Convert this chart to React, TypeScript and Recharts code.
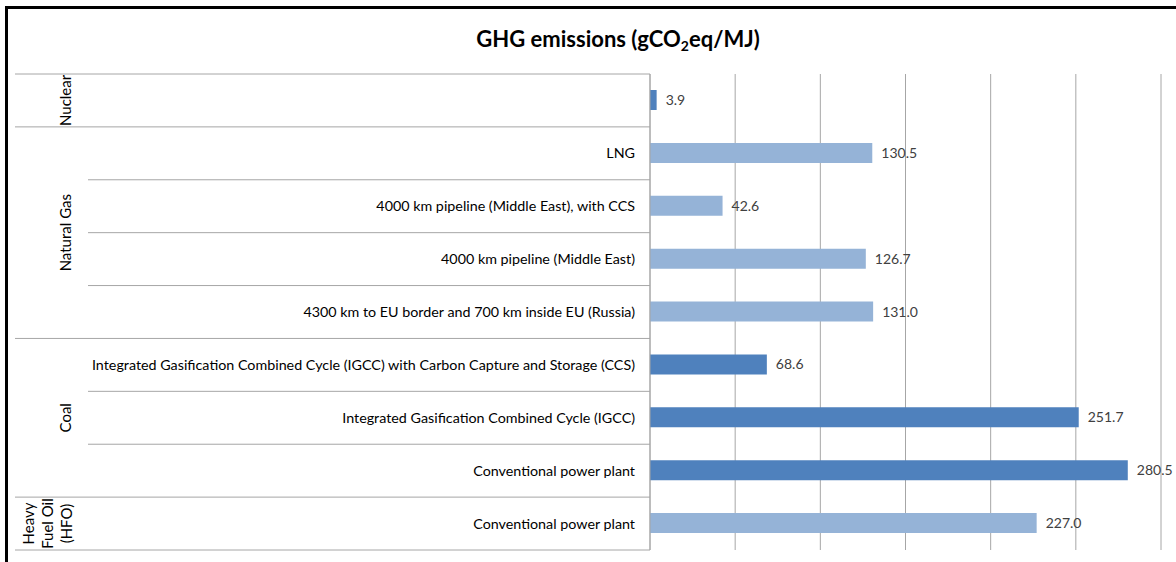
import React from "react";
import { BarChart, Bar, XAxis, YAxis, CartesianGrid, Cell, LabelList } from "recharts";

const categories = [
  "",
  "LNG",
  "4000 km pipeline (Middle East), with CCS",
  "4000 km pipeline (Middle East)",
  "4300 km to EU border and 700 km inside EU (Russia)",
  "Integrated Gasification Combined Cycle (IGCC) with Carbon Capture and Storage (CCS)",
  "Integrated Gasification Combined Cycle (IGCC)",
  "Conventional power plant",
  "Conventional power plant",
];
const groups = [
  "Nuclear",
  "Natural Gas",
  "Natural Gas",
  "Natural Gas",
  "Natural Gas",
  "Coal",
  "Coal",
  "Coal",
  "HFO",
];
const groupLabels: Record<string, string[]> = {
  Nuclear: ["Nuclear"],
  "Natural Gas": ["Natural Gas"],
  Coal: ["Coal"],
  HFO: ["Heavy", "Fuel Oil", "(HFO)"],
};
const values = [3.9, 130.5, 42.6, 126.7, 131.0, 68.6, 251.7, 280.5, 227.0];
const xTicks = [0, 50, 100, 150, 200, 250, 300];

const DARK = "#4F81BD";
const LIGHT = "#95B3D7";
const groupColor: Record<string, string> = {
  Nuclear: DARK,
  "Natural Gas": LIGHT,
  Coal: DARK,
  HFO: LIGHT,
};

const data = categories.map((c, i) => ({ id: String(i), label: c, group: groups[i], value: values[i] }));

const W = 1176;
const H = 562;
const TOP = 74;
const BOTTOM = 12;
const LEFTW = 650;
const RIGHT = 15;
const STEP = (H - TOP - BOTTOM) / categories.length;
const FONT = "Lato, 'Liberation Sans', sans-serif";
const LINE = "#a6a6a6";

const Tick = (props: any) => {
  const { y, payload } = props;
  const i = Number(payload.value);
  const g = groups[i];
  const isStart = i === 0 || groups[i - 1] !== g;
  const isLast = i === categories.length - 1;
  const rowTop = y - STEP / 2;
  let groupEl = null;
  if (isStart) {
    let n = 0;
    for (let k = i; k < groups.length && groups[k] === g; k++) n++;
    const cy = rowTop + (n * STEP) / 2;
    const lines = groupLabels[g];
    const lh = 19;
    const x0 = lines.length > 1 ? 34 : 71;
    groupEl = (
      <g>
        {lines.map((t, j) => (
          <text
            key={j}
            x={0}
            y={0}
            transform={`translate(${x0 + j * lh},${cy}) rotate(-90)`}
            textAnchor="middle"
            fontSize={15}
            fill="#000"
            fontFamily={FONT}
          >
            {t}
          </text>
        ))}
      </g>
    );
  }
  return (
    <g>
      <line x1={isStart ? 15 : 88} x2={LEFTW} y1={rowTop} y2={rowTop} stroke={LINE} strokeWidth={1} />
      {isLast && <line x1={15} x2={LEFTW} y1={rowTop + STEP} y2={rowTop + STEP} stroke={LINE} strokeWidth={1} />}
      {groupEl}
      <text x={LEFTW - 15} y={y + 5} textAnchor="end" fontSize={14.3} fill="#000" fontFamily={FONT}>
        {categories[i]}
      </text>
    </g>
  );
};

export default function App() {
  return (
    <div style={{ position: "absolute", left: 0, top: 0, width: W, height: H, overflow: "hidden", background: "#fff" }}>
      <div
        style={{
          position: "absolute",
          left: 5,
          top: 6,
          width: W + 50,
          height: H + 50,
          border: "3px solid #000",
          boxSizing: "border-box",
        }}
      />
      <div
        style={{
          position: "absolute",
          left: 418,
          top: 25,
          width: 400,
          textAlign: "center",
          fontFamily: FONT,
          fontWeight: "bold",
          fontSize: 22,
          lineHeight: "28px",
          color: "#000",
        }}
      >
        GHG emissions (gCO<sub style={{ fontSize: 14, verticalAlign: -4, lineHeight: 0 }}>2</sub>eq/MJ)
      </div>
      <div style={{ position: "absolute", left: 0, top: 0 }}>
        <BarChart
          width={W}
          height={H}
          data={data}
          layout="vertical"
          margin={{ top: TOP, bottom: BOTTOM, left: 0, right: RIGHT }}
          barCategoryGap={0}
        >
          <CartesianGrid horizontal={false} vertical stroke={LINE} strokeWidth={1} />
          <XAxis type="number" domain={[0, 300]} ticks={xTicks} hide />
          <YAxis
            type="category"
            dataKey="id"
            width={LEFTW}
            interval={0}
            tickLine={false}
            axisLine={{ stroke: LINE }}
            tick={<Tick />}
          />
          <Bar dataKey="value" barSize={20} isAnimationActive={false}>
            {data.map((d, i) => (
              <Cell key={i} fill={groupColor[d.group]} />
            ))}
            <LabelList
              dataKey="value"
              position="right"
              offset={9}
              fill="#404040"
              fontSize={14}
              fontFamily={FONT}
              formatter={(v: any) => Number(v).toFixed(1)}
            />
          </Bar>
        </BarChart>
      </div>
    </div>
  );
}
